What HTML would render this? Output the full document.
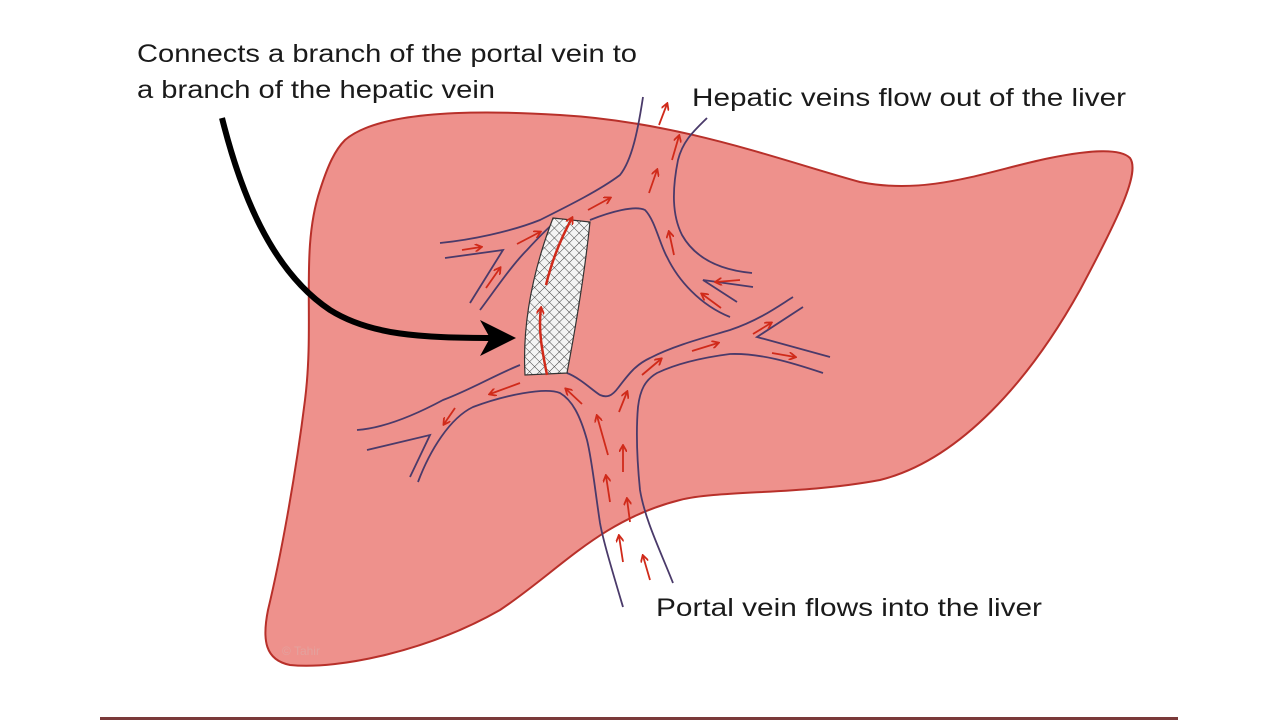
<!DOCTYPE html>
<html><head><meta charset="utf-8"><style>
html,body{margin:0;padding:0;background:#fff;}
svg{display:block;}
text{font-family:"Liberation Sans",sans-serif;fill:#1a1a1a;}
</style></head><body>
<svg width="1280" height="720" viewBox="0 0 1280 720" xmlns="http://www.w3.org/2000/svg">
<defs>
<pattern id="hatch" width="7" height="7" patternUnits="userSpaceOnUse" patternTransform="rotate(45)">
<rect width="7" height="7" fill="#f4f4f4"/>
<path d="M0 0H7M0 0V7" stroke="#444" stroke-width="1"/>
</pattern>
<marker id="ar" markerWidth="8" markerHeight="8" refX="6" refY="4" orient="auto" markerUnits="userSpaceOnUse">
<path d="M0,0 L7,4 L0,8" fill="none" stroke="#d02a1a" stroke-width="1.8"/>
</marker>
</defs>
<path d="M345,140 C380,110 480,110 560,115 C680,122 780,160 860,182 C930,196 990,170 1050,158 C1090,150 1120,148 1130,158 C1140,172 1120,215 1080,290 C1030,380 960,460 880,480 C800,495 720,490 680,500 C600,520 560,570 500,610 C430,650 340,670 290,665 C265,660 262,640 268,610 C280,560 295,480 305,400 C315,320 300,250 320,190 C328,165 335,150 345,140 Z" fill="#ee918c" stroke="#b8302a" stroke-width="2"/>
<text x="282" y="655" font-size="12" style="fill:#e3a29e">© Tahir</text>
<g fill="none" stroke="#4a3a6a" stroke-width="1.8">
<path d="M643,97 C638,130 632,160 620,175 C600,190 570,205 540,220 C510,232 470,240 440,243"/>
<path d="M445,258 L503,250 L470,303"/>
<path d="M480,310 C495,290 512,265 527,250 C538,238 548,228 555,222"/>
<path d="M707,118 C695,130 683,140 678,160 C672,190 672,215 682,235 C695,258 720,270 752,273"/>
<path d="M590,220 C610,212 635,205 645,210 C655,220 660,245 667,257 C678,280 700,305 730,317"/>
<path d="M753,287 L703,280 L737,302"/>
<path d="M623,607 C612,570 603,540 600,523 C595,490 592,460 587,440 C580,415 572,400 560,393 C545,387 505,395 473,407 C450,418 430,450 418,482"/>
<path d="M367,450 L430,435 L410,477"/>
<path d="M520,365 C495,375 470,390 443,400 C415,415 385,428 357,430"/>
<path d="M673,583 C660,550 645,520 640,490 C637,460 636,430 638,407 C640,390 645,380 657,373 C680,362 707,357 730,354 C760,353 790,362 823,373"/>
<path d="M567,373 C580,378 592,390 600,395 C607,398 612,396 618,388 C628,375 635,365 650,358 C675,345 707,337 730,330 C760,320 780,305 793,297"/>
<path d="M803,307 L757,337 L830,357"/>
</g>
<path d="M553,218 L590,222 C585,270 577,320 567,373 L525,375 C522,320 535,265 553,218 Z" fill="url(#hatch)" stroke="#333" stroke-width="1.2"/>
<g stroke="#d02a1a" stroke-width="2.5" fill="none">
<path d="M547,375 C542,350 538,330 541,308" marker-end="url(#ar)"/>
<path d="M546,285 C552,260 560,240 572,218" marker-end="url(#ar)"/>
</g>
<g stroke="#d02a1a" stroke-width="1.8" marker-end="url(#ar)">
<line x1="659" y1="125" x2="667" y2="104"/>
<line x1="672" y1="160" x2="679" y2="136"/>
<line x1="649" y1="193" x2="657" y2="170"/>
<line x1="588" y1="210" x2="610" y2="198"/>
<line x1="517" y1="244" x2="540" y2="232"/>
<line x1="462" y1="250" x2="481" y2="247"/>
<line x1="486" y1="288" x2="500" y2="268"/>
<line x1="674" y1="255" x2="669" y2="232"/>
<line x1="740" y1="280" x2="716" y2="282"/>
<line x1="721" y1="308" x2="702" y2="294"/>
<line x1="520" y1="383" x2="490" y2="394"/>
<line x1="455" y1="408" x2="444" y2="424"/>
<line x1="582" y1="404" x2="566" y2="389"/>
<line x1="619" y1="412" x2="627" y2="392"/>
<line x1="608" y1="455" x2="597" y2="416"/>
<line x1="623" y1="472" x2="623" y2="446"/>
<line x1="610" y1="502" x2="606" y2="476"/>
<line x1="630" y1="522" x2="627" y2="499"/>
<line x1="623" y1="562" x2="619" y2="536"/>
<line x1="650" y1="580" x2="643" y2="556"/>
<line x1="642" y1="375" x2="661" y2="359"/>
<line x1="692" y1="351" x2="718" y2="343"/>
<line x1="753" y1="334" x2="771" y2="323"/>
<line x1="772" y1="353" x2="795" y2="357"/>
</g>
<path d="M222,118 C240,190 270,270 330,310 C370,335 420,338 495,338" fill="none" stroke="#000" stroke-width="6"/>
<path d="M480,320 L516,338 L480,356 L490,338 Z" fill="#000"/>
<text x="137" y="62" font-size="25" textLength="500" lengthAdjust="spacingAndGlyphs">Connects a branch of the portal vein to</text>
<text x="137" y="98" font-size="25" textLength="358" lengthAdjust="spacingAndGlyphs">a branch of the hepatic vein</text>
<text x="692" y="106" font-size="25" textLength="434" lengthAdjust="spacingAndGlyphs">Hepatic veins flow out of the liver</text>
<text x="656" y="616" font-size="25" textLength="386" lengthAdjust="spacingAndGlyphs">Portal vein flows into the liver</text>
<rect x="100" y="717" width="1078" height="3" fill="#7a3a3a"/>
</svg>
</body></html>
